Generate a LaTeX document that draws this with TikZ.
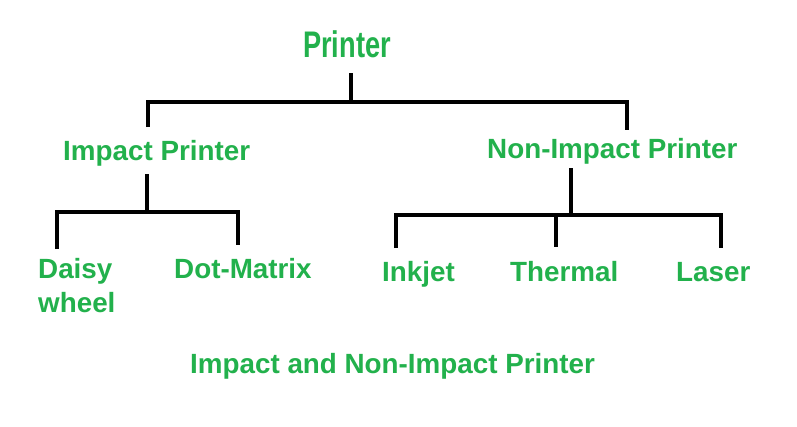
\documentclass[tikz,border=0pt]{standalone}
\usepackage{fontspec}
\setmainfont{Liberation Sans}
\definecolor{pgreen}{HTML}{22B14C}
\tikzset{
  lbl/.style={anchor=base west, inner sep=0pt, text=pgreen, font=\fontsize{27.8}{34}\selectfont\bfseries, align=left},
  ttl/.style={anchor=base west, inner sep=0pt, text=pgreen, font=\fontsize{37}{40}\selectfont\bfseries},
  wire/.style={line width=4.5pt, draw=black, line join=miter}
}
\begin{document}
\begin{tikzpicture}[x=1pt,y=-1pt]
\useasboundingbox[fill=white] (0,0) rectangle (797,426);
% labels
\node[ttl] (printer) at (303,57) {\scalebox{0.735}[1]{Printer}};
\node[lbl] (impact) at (63,160) {Impact Printer};
\node[lbl] (nonimpact) at (487,158) {Non-Impact Printer};
\node[lbl] (daisy) at (38,312) {Daisy\\wheel};
\node[lbl] (dot) at (174,278) {Dot-Matrix};
\node[lbl] (inkjet) at (382,281) {Inkjet};
\node[lbl] (thermal) at (510,281) {Thermal};
\node[lbl] (laser) at (676,281) {Laser};
\node[lbl] (caption) at (190,373) {Impact and Non-Impact Printer};
% junction coordinates
\coordinate (pTop) at (351,73);
\coordinate (pBus) at (351,102);
\coordinate (iUp) at (148,127);
\coordinate (iBus) at (148,102);
\coordinate (nUp) at (627,130);
\coordinate (nBus) at (627,102);
\coordinate (iTop) at (147,174);
\coordinate (iMid) at (147,212);
\coordinate (dBus) at (57,212);
\coordinate (dEnd) at (57,249);
\coordinate (mBus) at (238,212);
\coordinate (mEnd) at (238,245);
\coordinate (nTop) at (571,168);
\coordinate (nMid) at (571,215);
\coordinate (kBus) at (396,215);
\coordinate (kEnd) at (396,248);
\coordinate (tBus) at (556,215);
\coordinate (tEnd) at (556,247);
\coordinate (lBus) at (721,215);
\coordinate (lEnd) at (721,248);
% connectors
\draw[wire] (pTop) -- (pBus);
\draw[wire] (iUp) -- (iBus) -- (nBus) -- (nUp);
\draw[wire] (iTop) -- (iMid);
\draw[wire] (dEnd) -- (dBus) -- (mBus) -- (mEnd);
\draw[wire] (nTop) -- (nMid);
\draw[wire] (kEnd) -- (kBus) -- (lBus) -- (lEnd);
\draw[wire] (tBus) -- (tEnd);
\end{tikzpicture}
\end{document}
